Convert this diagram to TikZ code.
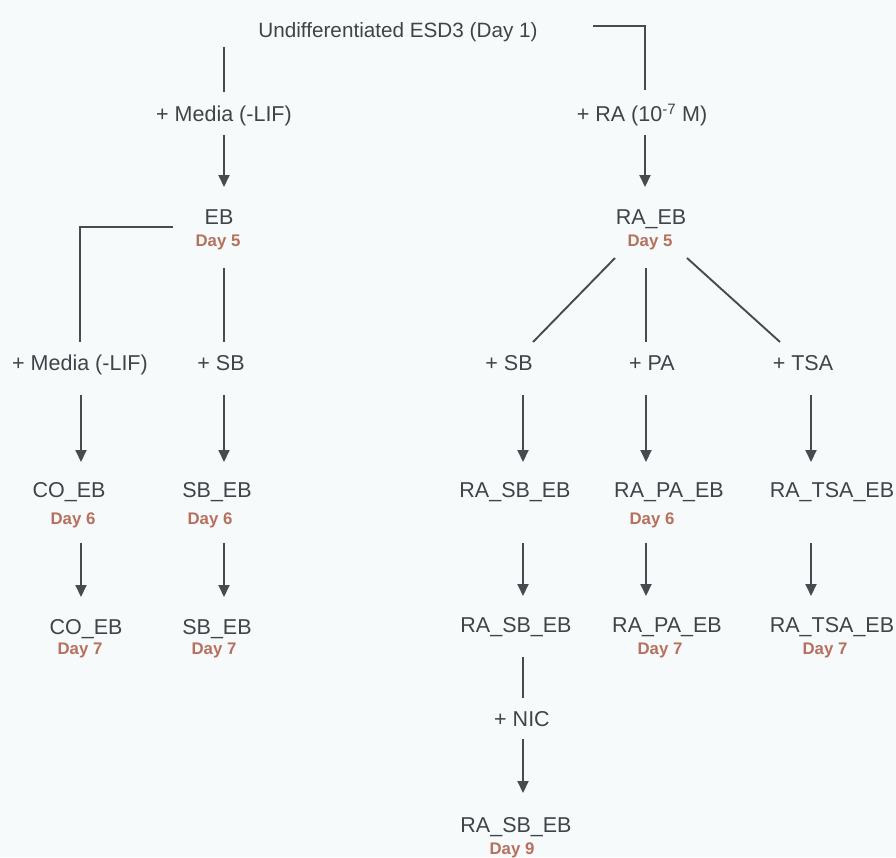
\documentclass[tikz,border=0pt]{standalone}
\usepackage{fontspec}
\setmainfont{Liberation Sans}
\usetikzlibrary{arrows.meta}
\definecolor{ink}{HTML}{404448}
\definecolor{wire}{HTML}{474B4F}
\definecolor{dayc}{HTML}{B8705E}
\definecolor{paper}{HTML}{F6FAFB}
\tikzset{
  lbl/.style={inner sep=0pt, text=ink, font=\fontsize{21.5}{24}\selectfont, text height=15.5pt, text depth=0pt},
  ttl/.style={inner sep=0pt, text=ink, font=\fontsize{20.7}{24}\selectfont, text height=14.9pt, text depth=0pt},
  daylbl/.style={inner sep=0pt, text=dayc, font=\fontsize{16.8}{19}\selectfont\bfseries, text height=12.1pt, text depth=0pt},
  ln/.style={draw=wire, line width=1.9pt},
  arr/.style={ln, -{Triangle[width=11pt,length=12pt]}}
}
\begin{document}
\begin{tikzpicture}[x=1pt,y=-1pt]
\fill[paper] (0,0) rectangle (896,857);
\useasboundingbox (0,0) rectangle (896,857);

% starting population
\node[ttl] (title) at (398,30) {Undifferentiated ESD3 (Day 1)};

% left branch
\node[lbl] (lmA) at (224,114) {+ Media (-LIF)};
\node[lbl] (eb) at (219,217) {EB};
\node[daylbl] (ebd) at (218,240) {Day 5};
\node[lbl] (lmB) at (80,363) {+ Media (-LIF)};
\node[lbl] (sbB) at (221,363) {+ SB};
\node[lbl] (coeb1) at (69,490) {CO\_EB};
\node[daylbl] (coeb1d) at (73,518) {Day 6};
\node[lbl] (sbeb1) at (217,490) {SB\_EB};
\node[daylbl] (sbeb1d) at (210,518) {Day 6};
\node[lbl] (coeb2) at (86,627) {CO\_EB};
\node[daylbl] (coeb2d) at (80,648) {Day 7};
\node[lbl] (sbeb2) at (217,627) {SB\_EB};
\node[daylbl] (sbeb2d) at (214,648) {Day 7};

% right branch
\node[lbl] (raA) at (642,114) {+ RA (10\textsuperscript{-7} M)};
\node[lbl] (raeb) at (651,217) {RA\_EB};
\node[daylbl] (raebd) at (650,240) {Day 5};
\node[lbl] (sbR) at (509,363) {+ SB};
\node[lbl] (paR) at (652,363) {+ PA};
\node[lbl] (tsaR) at (803,363) {+ TSA};
\node[lbl] (rasb1) at (515,490) {RA\_SB\_EB};
\node[lbl] (rapa1) at (669,490) {RA\_PA\_EB};
\node[daylbl] (rapa1d) at (652,518) {Day 6};
\node[lbl] (ratsa1) at (832,490) {RA\_TSA\_EB};
\node[lbl] (rasb2) at (516,625) {RA\_SB\_EB};
\node[lbl] (rapa2) at (667,625) {RA\_PA\_EB};
\node[daylbl] (rapa2d) at (660,648) {Day 7};
\node[lbl] (ratsa2) at (832,625) {RA\_TSA\_EB};
\node[daylbl] (ratsa2d) at (825,648) {Day 7};
\node[lbl] (nic) at (522,719) {+ NIC};
\node[lbl] (rasb3) at (516,825) {RA\_SB\_EB};
\node[daylbl] (rasb3d) at (512,848) {Day 9};

% connectors, left branch
\draw[ln] ([xshift=-174pt,yshift=-17pt]title.center) -- ([yshift=22pt]lmA.center);
\draw[arr] ([yshift=-21pt]lmA.center) -- ([xshift=5pt,yshift=30pt]eb.center);
\draw[ln] ([xshift=-46pt,yshift=-10pt]eb.center) -| ([yshift=21pt]lmB.center);
\draw[ln] ([xshift=5pt,yshift=-51pt]eb.center) -- ([xshift=3pt,yshift=21pt]sbB.center);
\draw[arr] ([xshift=1pt,yshift=-32pt]lmB.center) -- ([xshift=12pt,yshift=28pt]coeb1.center);
\draw[arr] ([xshift=3pt,yshift=-32pt]sbB.center) -- ([xshift=7pt,yshift=28pt]sbeb1.center);
\draw[arr] ([xshift=12pt,yshift=-53pt]coeb1.center) -- ([xshift=-5pt,yshift=30pt]coeb2.center);
\draw[arr] ([xshift=7pt,yshift=-53pt]sbeb1.center) -- ([xshift=7pt,yshift=30pt]sbeb2.center);

% connectors, right branch
\draw[ln] ([xshift=195pt,yshift=4pt]title.center) -| ([xshift=3pt,yshift=24pt]raA.center);
\draw[arr] ([xshift=3pt,yshift=-21pt]raA.center) -- ([xshift=-6pt,yshift=30pt]raeb.center);
\draw[ln] ([xshift=-36pt,yshift=-41pt]raeb.center) -- ([xshift=24pt,yshift=21pt]sbR.center);
\draw[ln] ([xshift=-5pt,yshift=-51pt]raeb.center) -- ([xshift=-6pt,yshift=21pt]paR.center);
\draw[ln] ([xshift=36pt,yshift=-41pt]raeb.center) -- ([xshift=-23pt,yshift=21pt]tsaR.center);
\draw[arr] ([xshift=14pt,yshift=-32pt]sbR.center) -- ([xshift=8pt,yshift=28pt]rasb1.center);
\draw[arr] ([xshift=-6pt,yshift=-32pt]paR.center) -- ([xshift=-23pt,yshift=28pt]rapa1.center);
\draw[arr] ([xshift=8pt,yshift=-32pt]tsaR.center) -- ([xshift=-21pt,yshift=28pt]ratsa1.center);
\draw[arr] ([xshift=8pt,yshift=-53pt]rasb1.center) -- ([xshift=7pt,yshift=29pt]rasb2.center);
\draw[arr] ([xshift=-23pt,yshift=-53pt]rapa1.center) -- ([xshift=-21pt,yshift=29pt]rapa2.center);
\draw[arr] ([xshift=-21pt,yshift=-53pt]ratsa1.center) -- ([xshift=-21pt,yshift=29pt]ratsa2.center);
\draw[ln] ([xshift=7pt,yshift=-32pt]rasb2.center) -- ([xshift=1pt,yshift=21pt]nic.center);
\draw[arr] ([xshift=1pt,yshift=-20pt]nic.center) -- ([xshift=7pt,yshift=32pt]rasb3.center);
\end{tikzpicture}
\end{document}
